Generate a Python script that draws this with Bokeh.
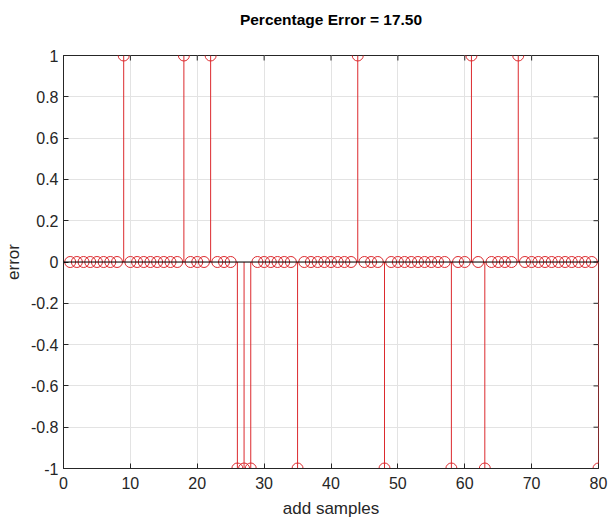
from math import pi

from bokeh.plotting import figure
from bokeh.models import (ColumnDataSource, FixedTicker, CustomJSTickFormatter,
                          Range1d, Span)
from bokeh.embed import file_html
from bokeh.resources import INLINE

# classification error per added sample: +1 / -1 where the prediction missed, 0 otherwise
samples = list(range(1, 81))
errors = [
    0, 0, 0, 0, 0, 0, 0, 0, 1, 0,
    0, 0, 0, 0, 0, 0, 0, 1, 0, 0,
    0, 1, 0, 0, 0, -1, -1, -1, 0, 0,
    0, 0, 0, 0, -1, 0, 0, 0, 0, 0,
    0, 0, 0, 1, 0, 0, 0, -1, 0, 0,
    0, 0, 0, 0, 0, 0, 0, -1, 0, 0,
    1, 0, -1, 0, 0, 0, 0, 1, 0, 0,
    0, 0, 0, 0, 0, 0, 0, 0, 0, -1,
]
x_ticks = [0, 10, 20, 30, 40, 50, 60, 70, 80]
y_ticks = [-1, -0.8, -0.6, -0.4, -0.2, 0, 0.2, 0.4, 0.6, 0.8, 1]

pct = 100.0 * sum(1 for e in errors if e != 0) / len(errors)

FONT = "Liberation Sans"
STEM = "#dc2a2e"
INK = "#262626"

x_lo, x_hi = x_ticks[0], x_ticks[-1]
y_lo, y_hi = y_ticks[0], y_ticks[-1]

p = figure(width=609, height=522, frame_width=535, frame_height=413,
           output_backend="svg", toolbar_location=None,
           x_range=Range1d(x_lo, x_hi), y_range=Range1d(y_lo, y_hi),
           min_border_left=63, min_border_right=11, min_border_top=55,
           min_border_bottom=54)

# the trailing empty line leaves a gap between the title and the axes box
p.title.text = "Percentage Error = %.2f\n" % pct
p.title.align = "center"
p.title.text_font = FONT
p.title.text_font_size = "15.5px"
p.title.text_font_style = "bold"
p.title.text_color = "#000000"
p.title.text_line_height = 1.3
p.title.offset = 0
p.title.standoff = 11

p.background_fill_color = "white"
p.border_fill_color = "white"
p.outline_line_color = INK
p.outline_line_width = 1

for ax, ticks in ((p.xaxis[0], x_ticks), (p.yaxis[0], y_ticks)):
    ax.ticker = FixedTicker(ticks=ticks)
    ax.major_tick_in = 5
    ax.major_tick_out = 0
    ax.minor_tick_line_color = None
    ax.axis_line_color = INK
    ax.major_tick_line_color = INK
    ax.major_label_text_font = FONT
    ax.major_label_text_font_size = "16px"
    ax.major_label_text_color = INK
    ax.axis_label_text_font = FONT
    ax.axis_label_text_font_size = "17px"
    ax.axis_label_text_font_style = "normal"
    ax.axis_label_text_color = INK
p.yaxis[0].formatter = CustomJSTickFormatter(
    code="return Number(tick.toFixed(1)).toString();")
p.xaxis[0].axis_label = "add samples"
p.yaxis[0].axis_label = "error"
p.xaxis[0].major_label_standoff = 8
p.yaxis[0].major_label_standoff = 5
p.xaxis[0].axis_label_standoff = 7
p.yaxis[0].axis_label_standoff = 5

p.xgrid.ticker = FixedTicker(ticks=x_ticks)
p.ygrid.ticker = FixedTicker(ticks=y_ticks)
p.xgrid.grid_line_color = "#e3e3e3"
p.ygrid.grid_line_color = "#e3e3e3"

# inward tick marks on the top and right edges of the box
p.ray(x=x_ticks, y=[y_hi] * len(x_ticks), length=5, length_units="screen",
      angle=-pi / 2, line_color=INK, line_width=1)
p.ray(x=[x_hi] * len(y_ticks), y=y_ticks, length=5, length_units="screen",
      angle=pi, line_color=INK, line_width=1)

src = ColumnDataSource(dict(x=samples, y=errors, y0=[0] * len(samples)))

# stem baseline
p.add_layout(Span(location=0, dimension="width", line_color="#000000", line_width=1))

p.segment(x0="x", y0="y0", x1="x", y1="y", source=src, line_color=STEM, line_width=1)
p.scatter(x="x", y="y", source=src, marker="circle", size=11,
          fill_color=None, line_color=STEM, line_width=1)

open("out.html", "w").write(file_html(p, INLINE))
